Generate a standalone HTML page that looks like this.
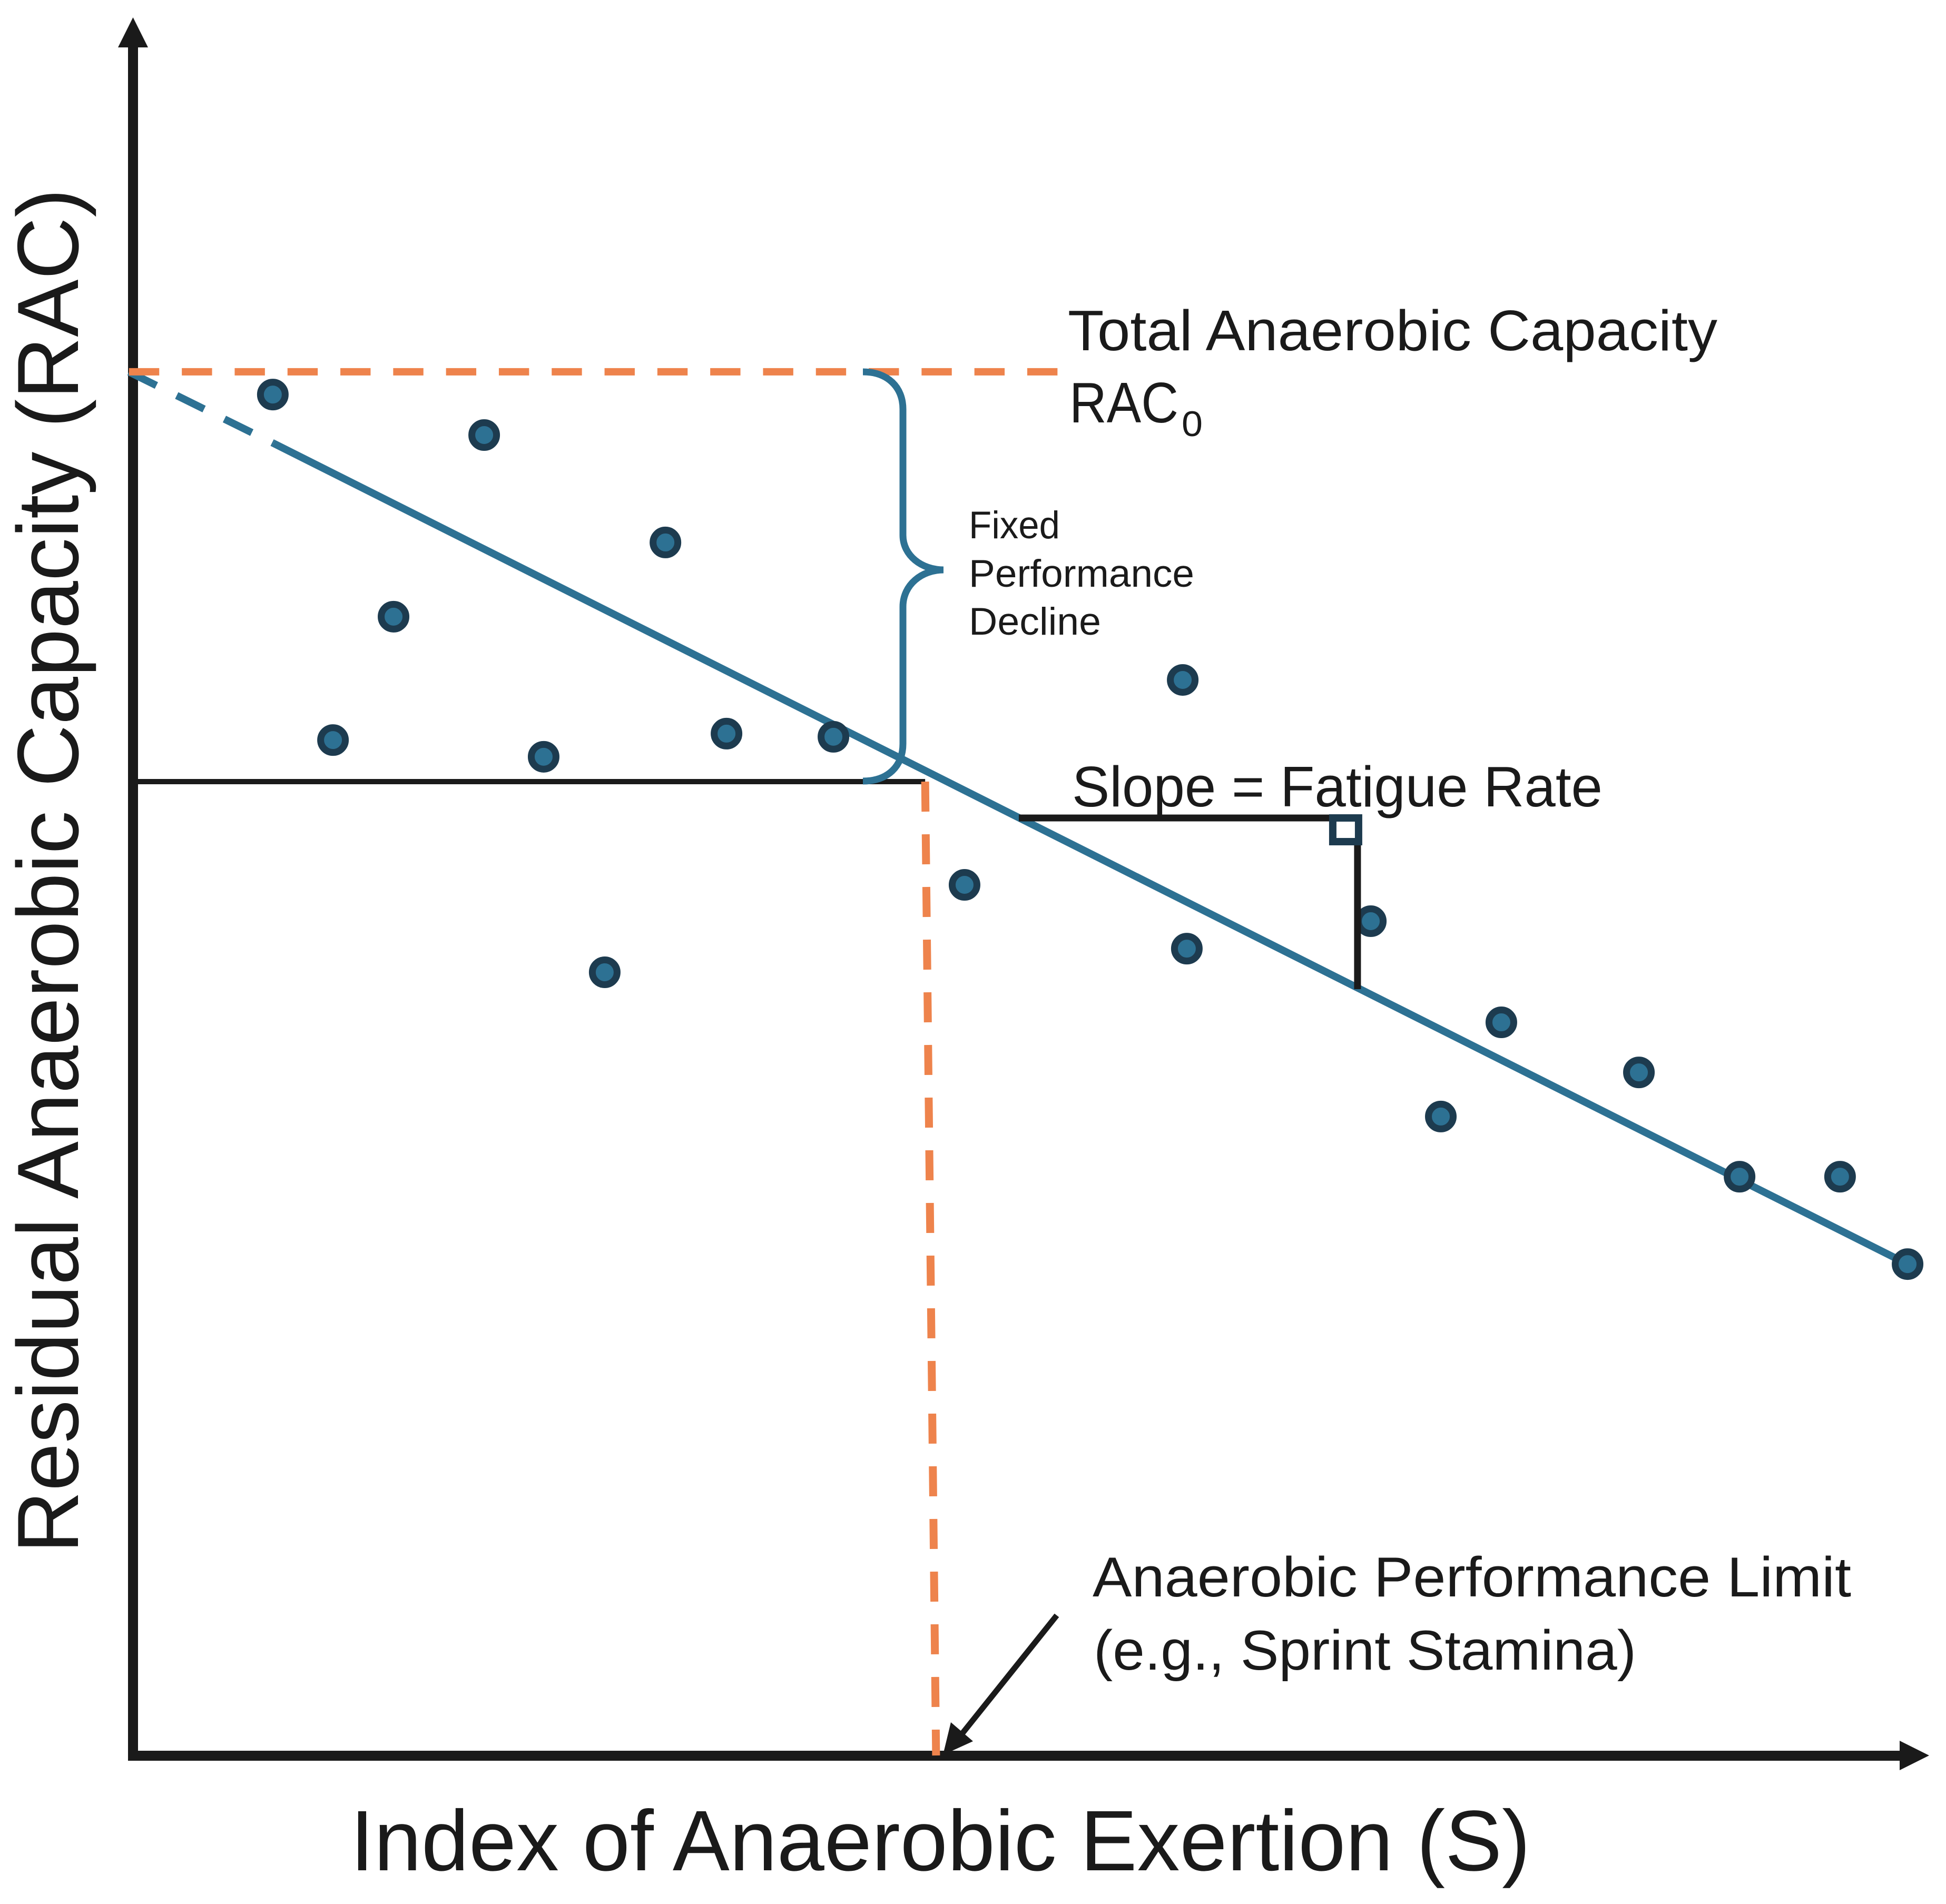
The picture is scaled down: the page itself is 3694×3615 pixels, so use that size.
<!DOCTYPE html>
<html lang="en">
<head>
<meta charset="utf-8">
<title>Residual Anaerobic Capacity vs Index of Anaerobic Exertion</title>
<style>
html,body{margin:0;padding:0;background:#fff;}
svg{display:block;}
text{font-family:"Liberation Sans",sans-serif;fill:#1a1a1a;}
</style>
</head>
<body>
<svg id="chart" xmlns="http://www.w3.org/2000/svg" width="3694" height="3615" viewBox="0 0 3694 3615">
  <rect x="0" y="0" width="3694" height="3615" fill="#ffffff"/>
  <g id="annot-under"></g>
  <g>
    <rect x="243" y="88" width="19" height="3254" fill="#1a1a1a"/>
    <polygon points="252.5,33 281,90 224,90" fill="#1a1a1a"/>
  </g>
  <g>
    <rect x="243" y="3324" width="3365" height="19" fill="#1a1a1a"/>
    <polygon points="3606,3305 3662,3333 3606,3361" fill="#1a1a1a"/>
  </g>
  <g id="series"></g>
  <g id="annot-over"></g>
  <path d="M1638,706 C1685,706 1714,735 1714,777 L1714,1016 C1714,1055 1750,1082 1791,1082 C1750,1082 1714,1110 1714,1152 L1714,1412 C1714,1455 1685,1483 1638,1483" fill="none" stroke="#2d7193" stroke-width="13"/>
  <g>
    <line x1="2006" y1="3067" x2="1826" y2="3292" stroke="#1a1a1a" stroke-width="11"/>
    <polygon points="1790,3332 1805,3270 1847,3306" fill="#1a1a1a"/>
  </g>
  <text transform="translate(148,2949) rotate(-90)" font-size="165" textLength="2591" lengthAdjust="spacingAndGlyphs">Residual Anaerobic Capacity (RAC)</text>
  <text x="665" y="3551" font-size="163" textLength="2240" lengthAdjust="spacingAndGlyphs">Index of Anaerobic Exertion (S)</text>
  <text x="2027" y="665" font-size="109" textLength="1233" lengthAdjust="spacingAndGlyphs">Total Anaerobic Capacity</text>
  <text x="2030" y="802" font-size="109" textLength="207" lengthAdjust="spacingAndGlyphs">RAC</text>
  <text x="2243" y="828" font-size="68" textLength="40" lengthAdjust="spacingAndGlyphs">0</text>
  <text x="1839" y="1022" font-size="73" textLength="173" lengthAdjust="spacingAndGlyphs">Fixed</text>
  <text x="1839" y="1114" font-size="73" textLength="428" lengthAdjust="spacingAndGlyphs">Performance</text>
  <text x="1839" y="1205" font-size="73" textLength="251" lengthAdjust="spacingAndGlyphs">Decline</text>
  <text x="2035" y="1531" font-size="109" textLength="1007" lengthAdjust="spacingAndGlyphs">Slope = Fatigue Rate</text>
  <text x="2074" y="3031" font-size="107" textLength="1440" lengthAdjust="spacingAndGlyphs">Anaerobic Performance Limit</text>
  <text x="2076" y="3170" font-size="107" textLength="1030" lengthAdjust="spacingAndGlyphs">(e.g., Sprint Stamina)</text>
</svg>
<script>
// Data (arbitrary 0-100 axis units)
var pointS = [7.82, 19.62, 29.74, 14.56, 11.18, 22.94, 33.15, 39.12, 26.35, 46.44, 58.62, 58.85, 69.12, 76.41, 73.03, 84.09, 89.71, 95.32, 99.09];
var pointRAC = [78.3, 75.97, 69.79, 65.52, 58.42, 57.46, 58.79, 58.61, 45.06, 50.09, 61.88, 46.42, 48.0, 42.18, 36.76, 39.3, 33.3, 33.3, 28.27];
var extrapolatedS = [-0.21, 7.85];
var extrapolatedRAC = [79.6, 75.5];
var fitS = [7.85, 99.09];
var fitRAC = [75.5, 28.27];
var totalCapacityS = [-0.21, 51.68];
var totalCapacityRAC = [79.61, 79.61];
var fixedDeclineS = [-0.21, 44.24];
var fixedDeclineRAC = [56.03, 56.03];
var limitS = [44.24, 44.85];
var limitRAC = [56.03, 0];
var slopeRunS = [49.47, 68.6];
var slopeRunRAC = [53.94, 53.94];
var slopeRiseS = [68.38, 68.38];
var slopeRiseRAC = [53.94, 44.09];

function xScale(v) { return 252 + v * 34; }
function yScale(v) { return 3333 - v * 33; }

var NS = 'http://www.w3.org/2000/svg';
var underGroup = document.getElementById('annot-under');
var seriesGroup = document.getElementById('series');
var overGroup = document.getElementById('annot-over');

function makeLine(sArr, rArr, color, width, dash) {
  var el = document.createElementNS(NS, 'line');
  el.setAttribute('x1', xScale(sArr[0]));
  el.setAttribute('y1', yScale(rArr[0]));
  el.setAttribute('x2', xScale(sArr[1]));
  el.setAttribute('y2', yScale(rArr[1]));
  el.setAttribute('stroke', color);
  el.setAttribute('stroke-width', width);
  if (dash) { el.setAttribute('stroke-dasharray', dash); }
  return el;
}

var fixedLine = makeLine(fixedDeclineS, fixedDeclineRAC, '#1a1a1a', 10);


underGroup.appendChild(fixedLine);

var extrapolated = makeLine(extrapolatedS, extrapolatedRAC, '#2d7193', 14, '58 43');


seriesGroup.appendChild(extrapolated);

var fit = makeLine(fitS, fitRAC, '#2d7193', 14);


seriesGroup.appendChild(fit);

for (var i = 0; i < pointS.length; i++) {
  var dot = document.createElementNS(NS, 'circle');
  
  
  dot.setAttribute('cx', xScale(pointS[i]));
  dot.setAttribute('cy', yScale(pointRAC[i]));
  dot.setAttribute('r', 23.5);
  dot.setAttribute('fill', '#2d7193');
  dot.setAttribute('stroke', '#1d3b4f');
  dot.setAttribute('stroke-width', 13);
  seriesGroup.appendChild(dot);
}

var total = makeLine(totalCapacityS, totalCapacityRAC, '#ee834c', 14, '57.4 42.9');


overGroup.appendChild(total);

var limit = makeLine(limitS, limitRAC, '#ee834c', 15, '57 43');


overGroup.appendChild(limit);

var run = makeLine(slopeRunS, slopeRunRAC, '#1a1a1a', 13);


overGroup.appendChild(run);

var rise = makeLine(slopeRiseS, slopeRiseRAC, '#1a1a1a', 13);


overGroup.appendChild(rise);

var marker = document.createElementNS(NS, 'rect');


marker.setAttribute('x', xScale(slopeRiseS[0]) - 47);
marker.setAttribute('y', yScale(slopeRunRAC[0]));
marker.setAttribute('width', 49);
marker.setAttribute('height', 45);
marker.setAttribute('fill', '#ffffff');
marker.setAttribute('stroke', '#1d3b4f');
marker.setAttribute('stroke-width', 14);
overGroup.appendChild(marker);
</script>
</body>
</html>
